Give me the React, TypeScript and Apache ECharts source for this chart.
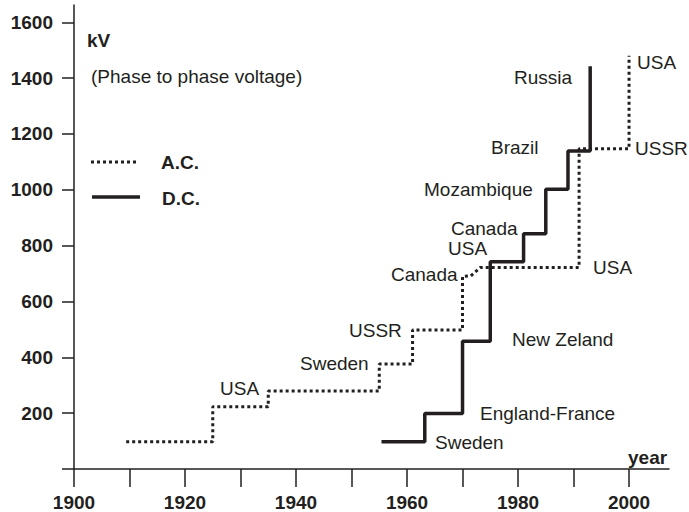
import React, { useEffect, useRef } from "react";
import * as echarts from "echarts";

// A.C. staircase vertices (year, kV)
const acYears = [1909.4, 1925, 1925, 1935, 1935, 1955, 1955, 1961, 1961, 1970, 1970, 1971.5, 1973.2, 1991, 1991, 2000, 2000];
const acKv = [98, 98, 223, 223, 279, 279, 376, 376, 498, 498, 690, 692, 722, 722, 1147, 1147, 1480];

// D.C. staircase vertices (year, kV)
const dcYears = [1955.4, 1963.2, 1963.2, 1970, 1970, 1975, 1975, 1981, 1981, 1985, 1985, 1989, 1989, 1993, 1993];
const dcKv = [98, 98, 199, 199, 458, 458, 742, 742, 843, 843, 1002, 1002, 1139, 1139, 1443];

const xTickValues = [1900, 1910, 1920, 1930, 1940, 1950, 1960, 1970, 1980, 1990, 2000];
const xLabelValues = [1900, 1920, 1940, 1960, 1980, 2000];
const yTickValues = [0, 200, 400, 600, 800, 1000, 1200, 1400, 1600];
const yLabelValues = [200, 400, 600, 800, 1000, 1200, 1400, 1600];

// annotation texts
const annotations: { text: string; x: number; y: number }[] = [
  { text: "USA", x: 220, y: 388 },
  { text: "Sweden", x: 300, y: 363 },
  { text: "USSR", x: 349, y: 330 },
  { text: "Canada", x: 391, y: 274 },
  { text: "USA", x: 448, y: 248 },
  { text: "Canada", x: 451, y: 228 },
  { text: "Mozambique", x: 424, y: 189 },
  { text: "Brazil", x: 491, y: 147 },
  { text: "Russia", x: 514, y: 77 },
  { text: "USA", x: 637, y: 62 },
  { text: "USSR", x: 635, y: 148 },
  { text: "USA", x: 593, y: 267 },
  { text: "New Zeland", x: 512, y: 339 },
  { text: "England-France", x: 480, y: 413 },
  { text: "Sweden", x: 435, y: 442 },
];

const INK = "#231f20";
const FONT = "'Liberation Sans', Arial, Helvetica, sans-serif";
const FS = 19;

export default function App() {
  const ref = useRef<HTMLDivElement>(null);
  useEffect(() => {
    if (!ref.current) return;
    const chart = echarts.init(ref.current, undefined, { renderer: "svg" });
    const graphic: any[] = annotations.map((a) => ({
      type: "text",
      x: a.x,
      y: a.y,
      style: { text: a.text, fill: INK, fontSize: FS, fontFamily: FONT, verticalAlign: "middle", align: "left" },
    }));
    graphic.push(
      { type: "text", x: 87, y: 40, style: { text: "kV", fill: INK, fontSize: FS, fontWeight: "bold", fontFamily: FONT, verticalAlign: "middle" } },
      { type: "text", x: 91, y: 76, style: { text: "(Phase to phase voltage)", fill: INK, fontSize: FS, fontFamily: FONT, verticalAlign: "middle" } },
      { type: "text", x: 628, y: 457, style: { text: "year", fill: INK, fontSize: FS, fontWeight: "bold", fontFamily: FONT, verticalAlign: "middle" } },
      // legend
      { type: "line", shape: { x1: 91, y1: 162, x2: 139, y2: 162 }, style: { stroke: INK, lineWidth: 3, lineDash: [3, 3] } },
      { type: "text", x: 161, y: 162, style: { text: "A.C.", fill: INK, fontSize: FS, fontWeight: "bold", fontFamily: FONT, verticalAlign: "middle" } },
      { type: "line", shape: { x1: 92, y1: 197, x2: 140, y2: 197 }, style: { stroke: INK, lineWidth: 3.5 } },
      { type: "text", x: 162, y: 198, style: { text: "D.C.", fill: INK, fontSize: FS, fontWeight: "bold", fontFamily: FONT, verticalAlign: "middle" } }
    );
    const fmt = (v: number) => String(v);
    chart.setOption({
      animation: false,
      backgroundColor: "#ffffff",
      textStyle: { fontFamily: FONT },
      grid: { left: 74, right: 20, top: 5, bottom: 43, containLabel: false },
      xAxis: {
        type: "value",
        min: 1900,
        max: 2007.2,
        axisLine: { show: true, onZero: false, lineStyle: { color: INK, width: 1.5 } },
        axisTick: { show: true, length: 18, customValues: xTickValues, lineStyle: { color: INK, width: 1.5 } },
        axisLabel: { customValues: xLabelValues, formatter: fmt, fontSize: FS, fontWeight: "bold", color: INK, margin: 24, fontFamily: FONT },
        splitLine: { show: false },
      },
      yAxis: {
        type: "value",
        min: 0,
        max: 1662,
        axisLine: { show: true, onZero: false, lineStyle: { color: INK, width: 1.5 } },
        axisTick: { show: true, length: 12, customValues: yTickValues, lineStyle: { color: INK, width: 1.5 } },
        axisLabel: { customValues: yLabelValues, formatter: fmt, fontSize: FS, fontWeight: "bold", color: INK, margin: 21, fontFamily: FONT },
        splitLine: { show: false },
      },
      series: [
        {
          name: "A.C.",
          type: "line",
          symbol: "none",
          showSymbol: false,
          data: acYears.map((y, i) => [y, acKv[i]]),
          lineStyle: { color: INK, width: 3, type: [3, 3], cap: "butt" },
          itemStyle: { color: INK },
          z: 3,
        },
        {
          name: "D.C.",
          type: "line",
          symbol: "none",
          showSymbol: false,
          data: dcYears.map((y, i) => [y, dcKv[i]]),
          lineStyle: { color: INK, width: 3.5, type: "solid" },
          itemStyle: { color: INK },
          z: 2,
        },
      ],
      graphic,
    });
    return () => chart.dispose();
  }, []);
  return <div ref={ref} style={{ position: "fixed", left: 0, top: 0, width: 689, height: 512 }} />;
}
